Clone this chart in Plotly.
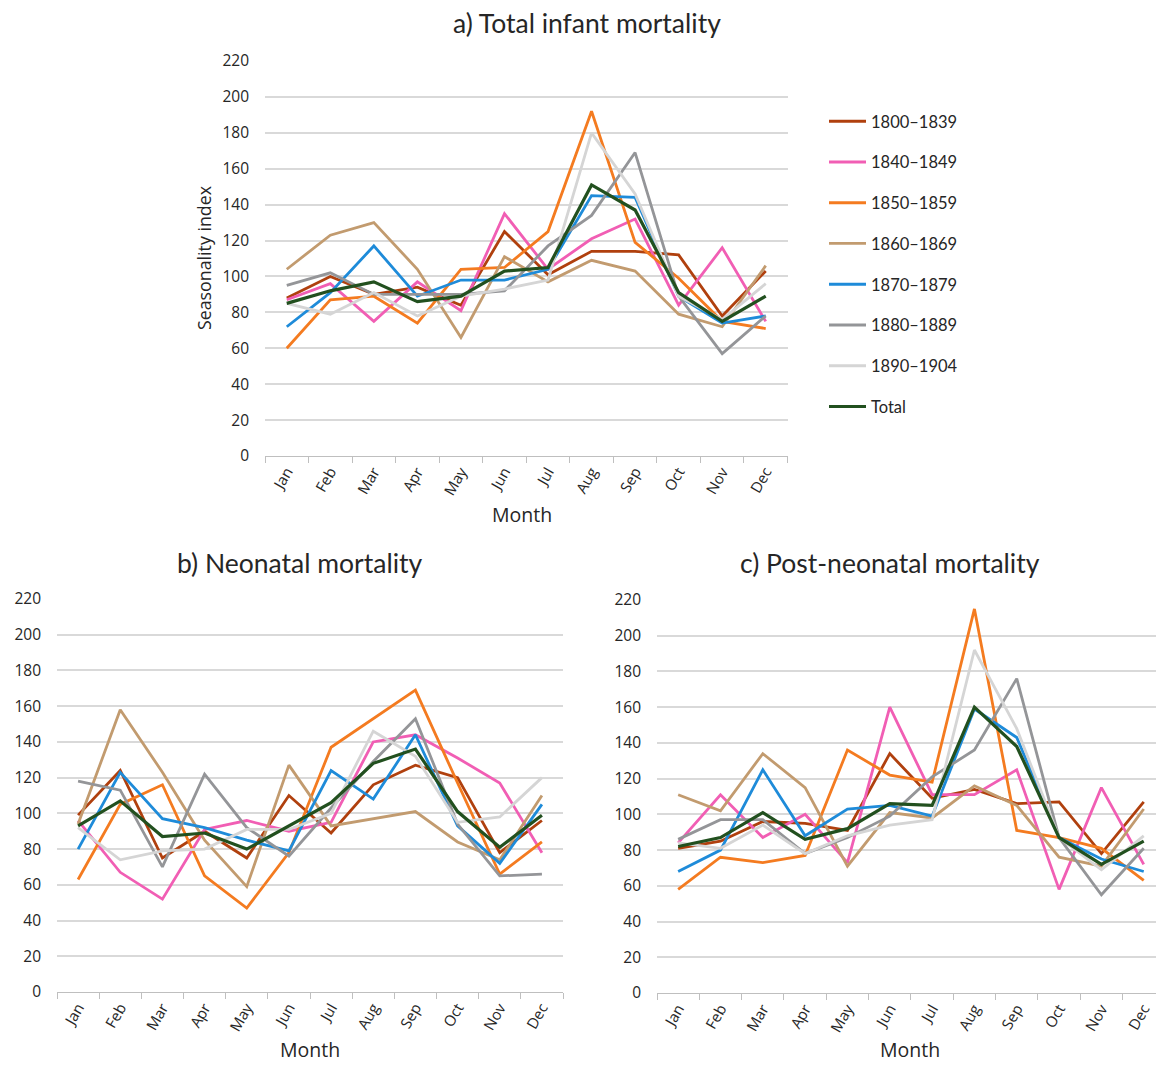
import plotly.graph_objects as go

months = ["Jan", "Feb", "Mar", "Apr", "May", "Jun", "Jul", "Aug", "Sep", "Oct", "Nov", "Dec"]
series_names = ["1800–1839", "1840–1849", "1850–1859", "1860–1869",
                "1870–1879", "1880–1889", "1890–1904", "Total"]
colors = ["#B0400E", "#F15EB4", "#F47B20", "#C29B6F",
          "#1E8BD9", "#949598", "#D5D5D5", "#22501F"]
y_ticks = [0, 20, 40, 60, 80, 100, 120, 140, 160, 180, 200, 220]

# a) Total infant mortality
total_1800 = [88, 100, 90, 94, 84, 125, 101, 114, 114, 112, 78, 103]
total_1840 = [87, 96, 75, 97, 81, 135, 104, 121, 132, 84, 116, 75]
total_1850 = [60, 87, 89, 74, 104, 105, 125, 192, 119, 99, 75, 71]
total_1860 = [104, 123, 130, 104, 66, 111, 97, 109, 103, 79, 72, 106]
total_1870 = [72, 91, 117, 89, 98, 98, 104, 145, 144, 89, 74, 78]
total_1880 = [95, 102, 90, 90, 90, 92, 117, 134, 169, 89, 57, 78]
total_1890 = [85, 79, 91, 78, 89, 93, 98, 180, 146, 89, 76, 96]
total_all = [85, 92, 97, 86, 89, 103, 105, 151, 137, 91, 75, 89]

# b) Neonatal mortality
neo_1800 = [99, 124, 75, 90, 75, 110, 89, 116, 127, 120, 78, 96]
neo_1840 = [96, 67, 52, 91, 96, 90, 95, 140, 144, 131, 117, 78]
neo_1850 = [63, 105, 116, 65, 47, 78, 137, 153, 169, 117, 66, 84]
neo_1860 = [94, 158, 123, 85, 59, 127, 93, 97, 101, 84, 74, 110]
neo_1870 = [80, 123, 97, 92, 85, 79, 124, 108, 144, 93, 72, 105]
neo_1880 = [118, 113, 70, 122, 92, 76, 103, 129, 153, 94, 65, 66]
neo_1890 = [92, 74, 79, 80, 91, 91, 100, 146, 132, 95, 98, 120]
neo_all = [93, 107, 87, 89, 80, 93, 106, 128, 136, 101, 81, 99]

# c) Post-neonatal mortality
post_1800 = [81, 85, 96, 95, 91, 134, 109, 114, 106, 107, 78, 107]
post_1840 = [84, 111, 87, 100, 73, 160, 111, 111, 125, 58, 115, 72]
post_1850 = [58, 76, 73, 77, 136, 122, 118, 215, 91, 87, 81, 63]
post_1860 = [111, 102, 134, 115, 71, 101, 98, 116, 105, 76, 71, 103]
post_1870 = [68, 80, 125, 88, 103, 105, 99, 159, 143, 87, 75, 68]
post_1880 = [86, 97, 97, 78, 87, 99, 121, 136, 176, 87, 55, 81]
post_1890 = [84, 81, 94, 78, 88, 94, 97, 192, 148, 87, 69, 88]
post_all = [82, 87, 101, 86, 92, 106, 105, 160, 138, 87, 72, 85]

panel_a = [total_1800, total_1840, total_1850, total_1860, total_1870, total_1880, total_1890, total_all]
panel_b = [neo_1800, neo_1840, neo_1850, neo_1860, neo_1870, neo_1880, neo_1890, neo_all]
panel_c = [post_1800, post_1840, post_1850, post_1860, post_1870, post_1880, post_1890, post_all]

W, H = 1156, 1066
def fx(px):
    return px / W
def fy(py):
    return 1 - py / H

fig = go.Figure()

panels = [
    (panel_a, "x", "y", True),
    (panel_b, "x2", "y2", False),
    (panel_c, "x3", "y3", False),
]
for data, xa, ya, show in panels:
    for i, (name, vals) in enumerate(zip(series_names, data)):
        fig.add_trace(go.Scatter(
            x=months, y=vals, mode="lines", name=name,
            line=dict(color=colors[i], width=3.2 if name == "Total" else 2.8),
            xaxis=xa, yaxis=ya, showlegend=show, legendgroup=name,
            hoverinfo="skip",
        ))

tick_font = dict(family="Open Sans, sans-serif", size=15.5, color="#262626")
common_x = dict(type="category", categoryorder="array", categoryarray=months,
                showgrid=False, showline=True, linecolor="#BFBFBF", linewidth=1.3,
                ticks="outside", tickson="boundaries", ticklen=6, tickcolor="#BFBFBF",
                tickwidth=1.3, tickangle=-60,
                tickfont=dict(family="Open Sans, sans-serif", size=15, color="#262626"),
                zeroline=False, fixedrange=True, automargin=False)
common_y = dict(range=[0, 220], tickvals=y_ticks, showgrid=True, gridcolor="#D9D9D9",
                gridwidth=1.5, showline=False, zeroline=False, ticks="",
                tickfont=tick_font, ticklabelstandoff=15, fixedrange=True, automargin=False)

fig.update_layout(
    template="none",
    width=W, height=H, margin=dict(l=0, r=0, t=0, b=0, pad=0, autoexpand=False),
    paper_bgcolor="white", plot_bgcolor="white",
    xaxis=dict(domain=[fx(265), fx(787.5)], anchor="y", range=[-0.5, 11.5], **common_x),
    yaxis=dict(domain=[fy(456), fy(61)], anchor="x", **common_y),
    xaxis2=dict(domain=[fx(57), fx(563)], anchor="y2", range=[-0.5, 11.5], **common_x),
    yaxis2=dict(domain=[fy(992), fy(599)], anchor="x2", **common_y),
    xaxis3=dict(domain=[fx(657), 1.0], anchor="y3", range=[-0.5, 11.29], **common_x),
    yaxis3=dict(domain=[fy(993), fy(600)], anchor="x3", **common_y),
    legend=dict(x=fx(824), y=fy(104), xanchor="left", yanchor="top",
                font=dict(family="Lato, Open Sans, sans-serif", size=16.5, color="#262626"),
                tracegroupgap=16.3, itemwidth=37, bgcolor="rgba(0,0,0,0)", borderwidth=0),
    showlegend=True,
)

title_font = dict(family="Lato, sans-serif", size=26.5, color="#262626")
axis_title_font = dict(family="Open Sans, sans-serif", size=19.5, color="#262626")
annos = [
    dict(text="a) Total infant mortality", x=fx(587), y=fy(23), font=title_font),
    dict(text="b) Neonatal mortality", x=fx(300), y=fy(563), font=title_font),
    dict(text="c) Post-neonatal mortality", x=fx(890), y=fy(563), font=title_font),
    dict(text="Month", x=fx(522), y=fy(514), font=axis_title_font),
    dict(text="Month", x=fx(310), y=fy(1065), font=axis_title_font, yanchor="bottom"),
    dict(text="Month", x=fx(910), y=fy(1065), font=axis_title_font, yanchor="bottom"),
    dict(text="Seasonality index", x=fx(204), y=fy(258), textangle=-90,
         font=dict(family="Open Sans, sans-serif", size=17.8, color="#262626")),
]
for a in annos:
    a.setdefault("yanchor", "middle")
    a.update(xref="paper", yref="paper", showarrow=False, xanchor="center")
fig.update_layout(annotations=annos)

fig.write_html("out.html", config={"displayModeBar": False},
               post_script="document.body.style.margin='0';document.body.style.overflow='hidden';")
